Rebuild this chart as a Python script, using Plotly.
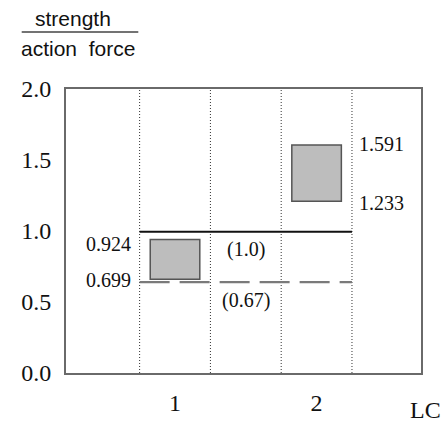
import plotly.graph_objects as go

# ---- data ----
categories = ["1", "2"]
cat_pos = [1.5, 3.5]
box_low = [0.66, 1.21]
box_high = [0.94, 1.605]
low_labels = ["0.699", "1.233"]
high_labels = ["0.924", "1.591"]
ref_values = [0.995, 0.64]
ref_labels = ["(1.0)", "(0.67)"]
ref_span = [1, 4]
dividers = [1, 2, 3, 4]
y_ticks = [0, 0.5, 1.0, 1.5, 2.0]
y_tick_labels = ["0.0", "0.5", "1.0", "1.5", "2.0"]

W, H = 443, 422
ML, MR, MT, MB = 66, 22, 89, 49
PW, PH = W - ML - MR, H - MT - MB


def px2paper(px, py):
    return (px - ML) / PW, (H - MB - py) / PH


SERIF = "Liberation Serif, Times New Roman, serif"
SANS = "Liberation Sans, Arial, sans-serif"

fig = go.Figure()

# boxes
fig.add_trace(go.Bar(
    x=cat_pos,
    y=[h - l for h, l in zip(box_high, box_low)],
    base=box_low,
    width=0.7,
    marker=dict(color="#bdbdbd", line=dict(color="#555555", width=1.5)),
    showlegend=False, hoverinfo="skip",
))

# reference lines
fig.add_trace(go.Scatter(
    x=ref_span, y=[ref_values[0]] * 2, mode="lines",
    line=dict(color="#111111", width=2), showlegend=False, hoverinfo="skip"))
fig.add_trace(go.Scatter(
    x=ref_span, y=[ref_values[1]] * 2, mode="lines",
    line=dict(color="#7a7a7a", width=2.2, dash="30px,10px"),
    showlegend=False, hoverinfo="skip"))

# dotted dividers
for d in dividers:
    fig.add_shape(type="line", xref="x", yref="y", x0=d, x1=d, y0=0, y1=2,
                  line=dict(color="#333333", width=1, dash="1px,2px"), layer="below")

annotations = []
high_shift = [-4, 1]
low_shift = [-1, -2]
# box value labels
for i, (lo, hi, lt, ht) in enumerate(zip(box_low, box_high, low_labels, high_labels)):
    if i == 0:
        xa, anchor, xs = dividers[0], "right", -7
    else:
        xa, anchor, xs = dividers[-1], "left", 5
    annotations.append(dict(x=xa, y=hi, xref="x", yref="y", text=ht, showarrow=False,
                            xanchor=anchor, yanchor="middle", xshift=xs, yshift=high_shift[i],
                            font=dict(family=SERIF, size=20, color="#111")))
    annotations.append(dict(x=xa, y=lo, xref="x", yref="y", text=lt, showarrow=False,
                            xanchor=anchor, yanchor="middle", xshift=xs, yshift=low_shift[i],
                            font=dict(family=SERIF, size=20, color="#111")))

# reference line labels
for v, t in zip(ref_values, ref_labels):
    annotations.append(dict(x=2.5, y=v, xref="x", yref="y", text=t, showarrow=False,
                            xanchor="center", yanchor="middle", yshift=-18,
                            font=dict(family=SERIF, size=20, color="#111")))

# y-axis title (fraction)
xp, yp = px2paper(72.5, 18)
annotations.append(dict(x=xp, y=yp, xref="paper", yref="paper", text="strength",
                        showarrow=False, xanchor="center", yanchor="middle",
                        font=dict(family=SANS, size=21, color="#111")))
xp, yp = px2paper(77.5, 48)
annotations.append(dict(x=xp, y=yp, xref="paper", yref="paper", text="action&nbsp; force",
                        showarrow=False, xanchor="center", yanchor="middle",
                        font=dict(family=SANS, size=21, color="#111")))
x0, yl = px2paper(21.7, 32)
x1, _ = px2paper(138.3, 32)
fig.add_shape(type="line", xref="paper", yref="paper", x0=x0, x1=x1, y0=yl, y1=yl,
              line=dict(color="#444444", width=1.5))

# x-axis title
xp, yp = px2paper(425, 410)
annotations.append(dict(x=xp, y=yp, xref="paper", yref="paper", text="LC",
                        showarrow=False, xanchor="center", yanchor="middle",
                        font=dict(family=SERIF, size=24, color="#111")))

fig.update_layout(
    width=W, height=H,
    margin=dict(l=ML, r=MR, t=MT, b=MB, pad=0, autoexpand=False),
    paper_bgcolor="white", plot_bgcolor="white",
    annotations=annotations,
    showlegend=False,
    xaxis=dict(range=[-0.04, 4.975], showgrid=False, zeroline=False,
               showline=True, mirror=True, linecolor="#6a6a6a", linewidth=2,
               tickvals=cat_pos, ticktext=categories, ticks="",
               ticklabelstandoff=7, automargin=False,
               tickfont=dict(family=SERIF, size=24, color="#111")),
    yaxis=dict(range=[0, 2], showgrid=False, zeroline=False,
               showline=True, mirror=True, linecolor="#6a6a6a", linewidth=2,
               tickvals=y_ticks, ticktext=y_tick_labels, ticks="",
               ticklabelstandoff=8, automargin=False,
               tickfont=dict(family=SERIF, size=24, color="#111")),
)

fig.write_html(
    "out.html",
    config={"displayModeBar": False},
    post_script="document.body.style.margin='0';document.body.style.overflow='hidden';",
)
